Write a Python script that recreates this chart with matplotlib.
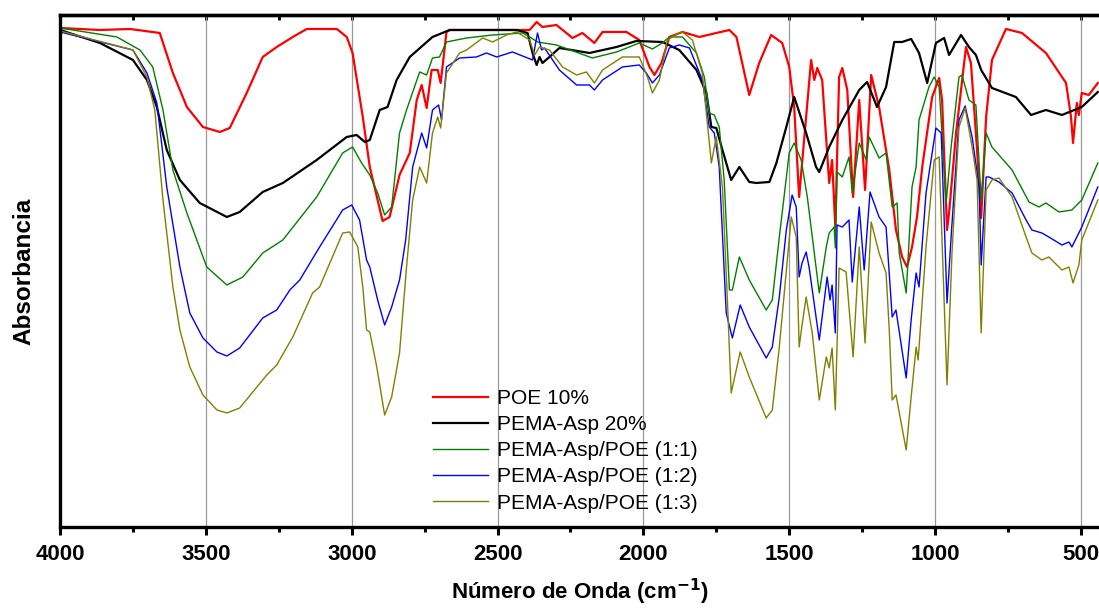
import matplotlib
matplotlib.use('Agg')
import matplotlib.pyplot as plt
from matplotlib.ticker import MultipleLocator, NullFormatter
import numpy as np

plt.rcParams['font.family'] = ['Liberation Sans', 'DejaVu Sans']

# FTIR spectra, wavenumber (cm-1) vs absorbance (arbitrary units, 0-512)
poe_wn = [4000, 3863, 3760, 3658, 3613, 3565, 3510, 3452, 3418, 3360, 3305, 3257, 3202, 3154,
          3051, 3017, 2997, 2962, 2938, 2894, 2870, 2836, 2801, 2777, 2760, 2743, 2726, 2705,
          2695, 2675, 2664, 2503, 2390, 2366, 2346, 2298, 2243, 2209, 2168, 2140, 2058, 2014,
          1979, 1962, 1938, 1911, 1866, 1808, 1750, 1705, 1681, 1637, 1603, 1562, 1524, 1500,
          1483, 1466, 1449, 1425, 1414, 1404, 1387, 1363, 1353, 1342, 1329, 1318, 1301, 1281,
          1260, 1240, 1219, 1192, 1157, 1134, 1113, 1096, 1079, 1062, 1044, 1010, 986, 976,
          959, 952, 928, 894, 877, 856, 842, 825, 805, 757, 702, 620, 551, 534, 527, 514, 507,
          497, 473, 442]
poe_ab = [499, 497, 498, 494, 454, 420, 400, 395, 399, 434, 470, 480, 490, 498,
          498, 490, 474, 410, 360, 306, 310, 352, 374, 427, 442, 419, 457, 457,
          444, 495, 497, 497, 497, 505, 500, 502, 489, 494, 484, 495, 495, 487,
          460, 452, 464, 490, 495, 490, 494, 497, 490, 432, 464, 492, 484, 460,
          420, 330, 387, 467, 447, 459, 447, 344, 367, 300, 450, 459, 437, 330,
          427, 337, 452, 420, 357, 297, 270, 260, 280, 310, 360, 430, 449, 427,
          297, 314, 394, 480, 464, 377, 309, 410, 467, 498, 494, 474, 444, 410, 384, 424, 412,
          434, 432, 444]

pema_wn = [4000, 3863, 3750, 3702, 3668, 3634, 3589, 3521, 3428, 3384, 3305, 3236, 3120, 3017,
           2983, 2955, 2938, 2904, 2877, 2846, 2801, 2723, 2664, 2435, 2397, 2380, 2366, 2356,
           2346, 2322, 2288, 2185, 2092, 2024, 1935, 1877, 1818, 1784, 1767, 1750, 1729, 1699,
           1671, 1637, 1613, 1568, 1544, 1510, 1483, 1442, 1408, 1397, 1363, 1318, 1260, 1233,
           1199, 1168, 1140, 1113, 1082, 1055, 1027, 997, 969, 952, 911, 884, 860, 842, 805,
           723, 671, 620, 565, 497, 442]
pema_ab = [497, 484, 467, 447, 420, 377, 347, 324, 310, 315, 335, 344, 367, 390,
           392, 385, 387, 417, 420, 447, 470, 490, 497, 497, 494, 474, 462, 470,
           464, 470, 479, 474, 480, 486, 485, 477, 457, 434, 400, 399, 377, 347,
           360, 345, 344, 345, 364, 400, 430, 394, 360, 355, 380, 407, 437, 445,
           420, 440, 485, 485, 488, 474, 444, 484, 489, 472, 492, 480, 472, 457, 439,
           430, 412, 417, 412, 420, 435]

m11_wn = [4000, 3805, 3726, 3682, 3647, 3613, 3565, 3497, 3428, 3373, 3305, 3236, 3120, 3031,
          2997, 2966, 2938, 2911, 2887, 2863, 2836, 2812, 2767, 2743, 2723, 2699, 2675, 2606,
          2517, 2414, 2384, 2363, 2298, 2175, 2092, 2014, 1969, 1935, 1911, 1866, 1818, 1791,
          1774, 1757, 1740, 1723, 1705, 1695, 1671, 1637, 1579, 1558, 1534, 1500, 1483, 1459,
          1438, 1397, 1373, 1363, 1346, 1342, 1336, 1318, 1295, 1284, 1260, 1236, 1226, 1192,
          1168, 1147, 1130, 1123, 1099, 1079, 1065, 1055, 1021, 1003, 986, 962, 945, 918, 908,
          884, 860, 842, 825, 805, 736, 678, 644, 620, 575, 531, 497, 442]
m11_ab = [499, 490, 477, 460, 417, 357, 314, 260, 242, 250, 274, 287, 330, 374,
          380, 364, 352, 334, 312, 320, 394, 417, 455, 452, 469, 470, 485, 489,
          492, 494, 489, 485, 482, 469, 475, 484, 478, 484, 490, 490, 474, 450,
          414, 412, 400, 347, 237, 237, 270, 247, 217, 227, 290, 374, 384, 367,
          330, 234, 280, 294, 300, 279, 355, 350, 370, 334, 384, 367, 390, 369,
          374, 320, 324, 274, 234, 340, 360, 407, 440, 450, 440, 324, 380, 450, 452,
          427, 422, 327, 394, 380, 357, 325, 320, 324, 315, 317, 327, 364]

m12_wn = [4000, 3750, 3702, 3668, 3634, 3589, 3555, 3510, 3462, 3428, 3384, 3305, 3257, 3212,
          3178, 3110, 3031, 3000, 2973, 2949, 2938, 2911, 2887, 2863, 2836, 2815, 2791, 2760,
          2743, 2723, 2702, 2692, 2675, 2630, 2572, 2538, 2503, 2449, 2397, 2380, 2363, 2349,
          2339, 2288, 2229, 2185, 2168, 2140, 2072, 2014, 1990, 1969, 1945, 1911, 1877, 1842,
          1798, 1774, 1757, 1740, 1716, 1695, 1668, 1637, 1579, 1558, 1534, 1510, 1490, 1476,
          1466, 1456, 1442, 1432, 1397, 1370, 1360, 1353, 1342, 1336, 1318, 1295, 1284, 1260,
          1243, 1223, 1192, 1168, 1147, 1134, 1099, 1082, 1065, 1055, 1031, 997, 979, 959, 945,
          918, 897, 873, 849, 842, 825, 815, 781, 736, 688, 668, 634, 610, 565, 541, 531, 497,
          442]
m12_ab = [495, 477, 454, 424, 340, 260, 214, 189, 175, 171, 179, 209, 217, 237,
          247, 280, 317, 322, 307, 267, 260, 227, 202, 220, 247, 287, 360, 394,
          379, 417, 422, 407, 460, 469, 470, 474, 470, 475, 469, 467, 494, 477,
          479, 457, 442, 442, 437, 447, 460, 462, 454, 444, 452, 479, 482, 479,
          447, 400, 394, 360, 214, 189, 222, 200, 169, 180, 230, 297, 332, 320,
          250, 264, 275, 260, 187, 250, 227, 242, 194, 302, 300, 307, 245, 320,
          257, 335, 310, 300, 210, 217, 149, 207, 254, 240, 334, 399, 394, 224, 290,
          407, 421, 390, 340, 262, 350, 350, 345, 334, 307, 297, 294, 290, 282, 285, 280, 300,
          340]

m13_wn = [4000, 3750, 3702, 3675, 3647, 3613, 3589, 3555, 3510, 3462, 3428, 3384, 3325, 3291,
          3257, 3202, 3134, 3110, 3031, 3007, 2979, 2962, 2949, 2938, 2914, 2887, 2863, 2836,
          2812, 2791, 2767, 2743, 2723, 2705, 2695, 2675, 2630, 2606, 2551, 2517, 2469, 2435,
          2390, 2373, 2356, 2322, 2277, 2229, 2195, 2168, 2140, 2072, 2014, 1986, 1969, 1945,
          1918, 1877, 1866, 1832, 1798, 1767, 1750, 1729, 1712, 1699, 1668, 1637, 1579, 1558,
          1534, 1493, 1476, 1466, 1456, 1442, 1421, 1397, 1373, 1363, 1353, 1342, 1329, 1305,
          1281, 1260, 1240, 1219, 1192, 1168, 1157, 1147, 1134, 1099, 1082, 1065, 1058, 1031,
          1003, 986, 959, 942, 918, 897, 873, 856, 842, 825, 805, 781, 736, 688, 668, 634, 610,
          565, 541, 527, 507, 497, 442]
m13_ab = [496, 477, 450, 417, 327, 240, 197, 160, 132, 117, 114, 119, 140, 152,
          162, 190, 234, 240, 294, 295, 280, 240, 197, 195, 160, 112, 130, 174,
          260, 327, 360, 344, 394, 410, 399, 454, 474, 477, 489, 485, 492, 495,
          487, 472, 480, 477, 460, 452, 455, 444, 457, 470, 470, 450, 434, 447,
          487, 494, 495, 487, 454, 364, 390, 340, 227, 134, 175, 150, 109, 117,
          180, 310, 290, 180, 202, 230, 194, 127, 170, 159, 179, 117, 259, 255,
          170, 280, 184, 305, 274, 254, 197, 127, 132, 77, 130, 180, 167, 280,
          367, 370, 142, 274, 400, 419, 380, 347, 194, 337, 347, 349, 330, 290, 274, 267, 270,
          257, 260, 244, 262, 287, 327]

series = [
    (poe_wn, poe_ab, '#ff0000', 1.6, 'POE 10%'),
    (pema_wn, pema_ab, '#000000', 1.6, 'PEMA-Asp 20%'),
    (m11_wn, m11_ab, '#008000', 1.0, 'PEMA-Asp/POE (1:1)'),
    (m12_wn, m12_ab, '#0000ff', 1.0, 'PEMA-Asp/POE (1:2)'),
    (m13_wn, m13_ab, '#808000', 1.0, 'PEMA-Asp/POE (1:3)'),
]

fig = plt.figure(figsize=(10.99, 6.14), dpi=100)
ax = fig.add_axes([0.0546, 0.1417, 0.9454, 0.8339])

for wn, ab, col, lw, lab in series:
    ax.plot(wn, ab, color=col, lw=lw, label=lab)

ax.set_xlim(4000, 438)
ax.set_ylim(0, 512)
ax.xaxis.set_major_locator(MultipleLocator(500))
ax.xaxis.set_minor_locator(MultipleLocator(250))
ax.set_yticks([])
ax.grid(True, axis='x', color='#999999', lw=0.9)

for s in ['left', 'bottom', 'top']:
    ax.spines[s].set_linewidth(2.4)
ax.spines['right'].set_visible(False)
ax.tick_params(axis='x', which='major', direction='out', length=6, width=2.2,
               labelsize=16, pad=6)
ax.tick_params(axis='x', which='minor', direction='out', length=3.5, width=2.2)
for lbl in ax.get_xticklabels():
    lbl.set_fontweight('bold')

# inward ticks on the top spine
top = ax.secondary_xaxis('top')
top.xaxis.set_major_locator(MultipleLocator(500))
top.xaxis.set_minor_locator(MultipleLocator(250))
top.xaxis.set_major_formatter(NullFormatter())
top.tick_params(which='both', direction='in', length=3.5, width=2.0)
top.spines['top'].set_linewidth(2.4)

ax.set_xlabel('Número de Onda (cm$^{\\mathbf{-1}}$)', fontsize=16, fontweight='bold', labelpad=9)
ax.set_ylabel('Absorbancia', fontsize=17.5, fontweight='bold', labelpad=18)

ax.legend(loc='lower left', bbox_to_anchor=(0.351, 0.012), borderaxespad=0, frameon=False,
          fontsize=15, handlelength=2.65, handletextpad=0.43, labelspacing=0.34)

fig.savefig('out.png', dpi=100)
